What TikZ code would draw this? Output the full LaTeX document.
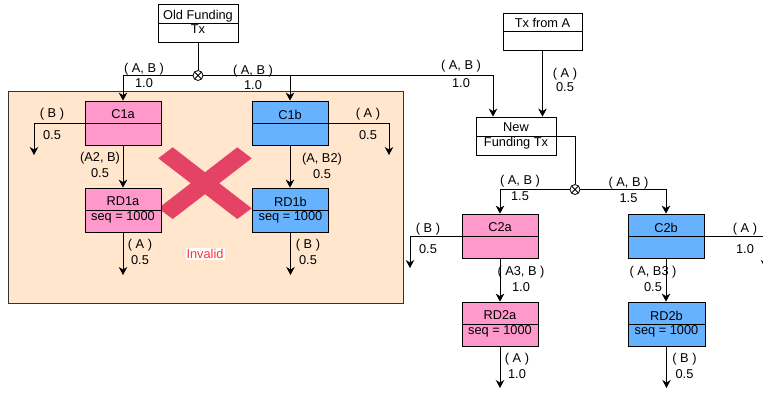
\documentclass[tikz,border=0pt]{standalone}
\usepackage{fontspec}
\setmainfont{Liberation Sans}
\usetikzlibrary{
    arrows.meta,
    positioning,
    calc
}
\definecolor{chanpink}{RGB}{255, 153, 204}
\definecolor{chanblue}{RGB}{102, 178, 255}
\definecolor{regionorange}{RGB}{255, 230, 204}
\definecolor{crossred}{RGB}{228, 67, 102}
\definecolor{invalidred}{RGB}{255, 51, 51}
\newcommand{\rows}[2]{\rule[-2.7pt]{0pt}{11.7pt}#1\\\rule[-2.7pt]{0pt}{11.7pt}#2}

\begin{document}
\begin{tikzpicture}[
        x=1pt, y=-1pt,
        txbox/.style={draw, line width=0.8pt, inner sep=0pt, minimum width=76pt, minimum height=44pt, align=center,
            font=\fontsize{12.8}{14.5}\selectfont,
            path picture={\draw[line width=0.8pt] (path picture bounding box.west) -- (path picture bounding box.east);}},
        fundbox/.style={txbox, fill=white, minimum width=80pt, minimum height=38pt},
        junction/.style={circle, draw, line width=0.8pt, fill=white, inner sep=0pt, minimum size=10pt,
            path picture={\draw[line width=0.8pt] (path picture bounding box.north west) -- (path picture bounding box.south east)
                (path picture bounding box.north east) -- (path picture bounding box.south west);}},
        lbl/.style={align=center, inner sep=0pt, font=\fontsize{12.8}{15.5}\selectfont},
        arrow/.style={-{Stealth[length=8pt, width=8.5pt, inset=2.5pt]}, line width=0.8pt},
        wire/.style={line width=0.8pt}
    ]
        \useasboundingbox (0,0) rectangle (763,392);

        % Revoked branch
        \draw[line width=0.8pt, draw=black!80, fill=regionorange] (8,91) rectangle (403,303);
        \fill[crossred] (158.3,158.3) -- (172.7,147.3) -- (251.7,208.3) -- (237.3,219) -- cycle;
        \fill[crossred] (237.3,147.3) -- (251.7,158.3) -- (172.7,219) -- (158.3,208.3) -- cycle;
        \node[fill=white, inner sep=1pt, text=invalidred, font=\fontsize{12.8}{14}\selectfont] (inv) at (205,254) {Invalid};

        % Funding transactions
        \node[fundbox] (oldfund) at (198, 23) {\rows{Old Funding}{Tx}};

        \node[fundbox, minimum width=79pt, minimum height=37pt] (txa) at (542.5, 31.5) {\rows{Tx from A}{}};

        \node[fundbox] (newfund) at (516, 136) {\rows{New}{Funding Tx}};

        \node[junction] (j1) at (198, 75.5) {};
        \node[junction] (j2) at (575, 189.5) {};

        % First commitments
        \node[txbox, fill=chanpink] (c1a) at (123, 123) {\rows{C1a}{}};

        \node[txbox, fill=chanblue] (c1b) at (290, 123) {\rows{C1b}{}};

        \node[txbox, fill=chanpink] (rd1a) at (123, 210) {\rows{RD1a}{seq = 1000}};

        \node[txbox, fill=chanblue] (rd1b) at (290.5, 210) {\rows{RD1b}{seq = 1000}};

        % Second commitments
        \node[txbox, fill=chanpink] (c2a) at (500, 236) {\rows{C2a}{}};

        \node[txbox, fill=chanblue] (c2b) at (666, 236) {\rows{C2b}{}};

        \node[txbox, fill=chanpink] (rd2a) at (500, 324) {\rows{RD2a}{seq = 1000}};

        \node[txbox, fill=chanblue, minimum width=77pt] (rd2b) at (666.5, 324) {\rows{RD2b}{seq = 1000}};

        % Loose outputs
        \coordinate (c1a-out) at (34, 155);
        \coordinate (c1b-out) at (389, 155);
        \coordinate (rd1a-out) at (123, 275);
        \coordinate (rd1b-out) at (290.5, 275);
        \coordinate (c2a-out) at (410, 268);
        \coordinate (c2b-out) at (765, 268);
        \coordinate (rd2a-out) at (500, 388);
        \coordinate (rd2b-out) at (666.5, 388);

        % Arrows - old funding
        \draw[wire] (oldfund) -- (j1);
        \draw[arrow] (j1) -| (c1a);
        \draw[arrow] (j1) -| (c1b);
        \draw[arrow] (j1) -| ([xshift=-23pt]newfund.north);
        \draw[arrow] (c1a.west) -| (c1a-out);
        \draw[arrow] (c1b.east) -| (c1b-out);
        \draw[arrow] (c1a) -- (rd1a);
        \draw[arrow] (c1b.south) -- (c1b.south |- rd1b.north);
        \draw[arrow] (rd1a) -- (rd1a-out);
        \draw[arrow] (rd1b) -- (rd1b-out);

        % Arrows - new funding
        \draw[arrow] (txa.south) -- (txa.south |- newfund.north);
        \draw[wire] (newfund.east) -| (j2);
        \draw[arrow] (j2) -| (c2a);
        \draw[arrow] (j2) -| (c2b);
        \draw[arrow] (c2a.west) -| (c2a-out);
        \draw[arrow] (c2b.east) -| (c2b-out);
        \draw[arrow] (c2a) -- (rd2a);
        \draw[arrow] (c2b.south) -- (c2b.south |- rd2b.north);
        \draw[arrow] (rd2a) -- (rd2a-out);
        \draw[arrow] (rd2b) -- (rd2b-out);

        % Output annotations
        \node[lbl] (l-j1a) at (144, 75.5) {( A, B )\\1.0};
        \node[lbl] (l-j1b) at (253, 77.5) {( A, B )\\1.0};
        \node[lbl] (l-j1c) at (461, 73.8) {( A, B )\\[3pt]1.0};
        \node[lbl] (l-txa) at (565, 80) {( A )\\[-2pt]0.5};
        \node[lbl] (l-c1a) at (52, 124) {( B )\\[6.5pt]0.5};
        \node[lbl] (l-c1b) at (368, 124) {( A )\\[6.5pt]0.5};
        \node[lbl] (l-rd1a) at (100, 165) {(A2, B)\\0.5};
        \node[lbl] (l-rd1b) at (322, 166) {(A, B2)\\0.5};
        \node[lbl] (l-o1a) at (140, 252) {( A )\\[1pt]0.5};
        \node[lbl] (l-o1b) at (308, 252) {( B )\\[1pt]0.5};
        \node[lbl] (l-j2a) at (520, 188) {( A, B )\\1.5};
        \node[lbl] (l-j2b) at (628.5, 190) {( A, B )\\1.5};
        \node[lbl] (l-c2a) at (428, 238.5) {( B )\\[5.5pt]0.5};
        \node[lbl] (l-c2b) at (745, 238.5) {( A )\\[5.5pt]1.0};
        \node[lbl] (l-rd2a) at (521, 279) {( A3, B )\\1.0};
        \node[lbl] (l-rd2b) at (653, 279) {( A, B3 )\\0.5};
        \node[lbl] (l-o2a) at (517, 366) {( A )\\1.0};
        \node[lbl] (l-o2b) at (684.5, 366) {( B )\\0.5};
    \end{tikzpicture}
\end{document}
